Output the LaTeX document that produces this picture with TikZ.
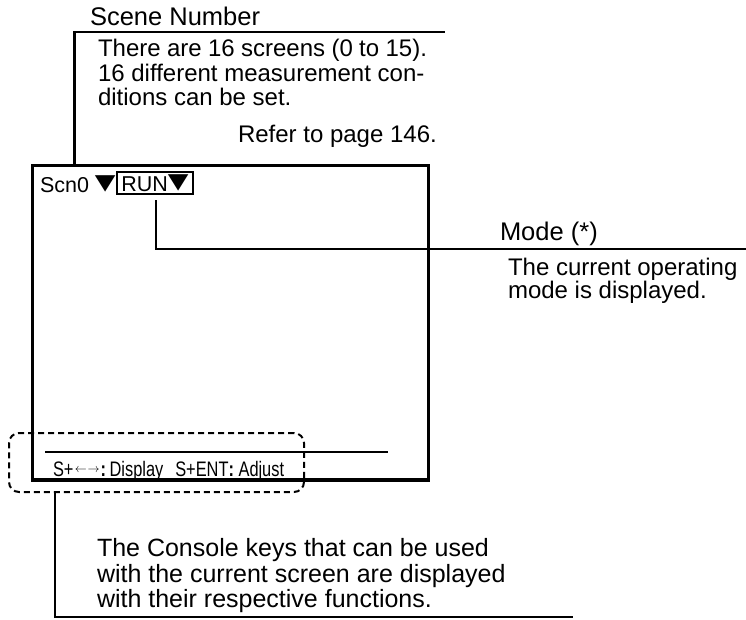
\documentclass[tikz,border=0pt]{standalone}
\usepackage{graphicx}
\usepackage{fontspec}
\setmainfont{Liberation Sans}
\newfontfamily\symfont{DejaVu Sans}
\newfontfamily\narrowfont[FakeStretch=0.78]{Liberation Sans}
\usetikzlibrary{calc}

% downward-pointing marker used on the monitor screen
\newcommand{\downmark}{{\symfont\raisebox{3pt}{\scalebox{1.25}[1]{▼}}}}
% left/right cursor key pair
\newcommand{\lrkeys}{\hspace{1.5pt}{\fontsize{13}{13}\selectfont\raisebox{4pt}{$\leftarrow\mkern1mu\rightarrow$}}\hspace{1pt}}

\begin{document}
\begin{tikzpicture}[x=1pt,y=-1pt,
  every node/.style={inner sep=0pt,outer sep=0pt},
  txt/.style={anchor=base west,font=\fontsize{24}{24}\selectfont},
  bigtxt/.style={anchor=base west,font=\fontsize{25}{25}\selectfont},
  head/.style={anchor=base west,font=\fontsize{25.5}{25.5}\selectfont},
  scrtxt/.style={anchor=base west,font=\fontsize{21.5}{21.5}\selectfont},
  leader/.style={line width=2.4pt},
  monitor/.style={draw,line width=3.5pt,anchor=north west},
  keyzone/.style={draw,line width=2pt,dash pattern=on 6pt off 4pt,
                  rounded corners=10pt,anchor=north west}]
\useasboundingbox (0,0) rectangle (746,619);

% monitor screen
\node[monitor,minimum width=396pt,minimum height=314.5pt] (screen) at (32.5,165.5) {};
\node[scrtxt] (scn) at (40,192) {Scn0 \downmark};
\node[draw,line width=2.2pt,minimum width=76pt,minimum height=22pt,anchor=north west,
      font=\fontsize{21.5}{21.5}\selectfont] (run) at (117,172) {RUN\downmark};

% guidance line at the foot of the screen
\coordinate (kl) at (45,452);
\coordinate (kr) at (388,452);
\draw[line width=2pt] (kl) -- (kr);
\node[anchor=base west,font=\narrowfont\fontsize{21}{21}\selectfont] (keys) at (53,476)
  {S+\lrkeys\textbf{:}\,Display\hspace{12pt}S+ENT\textbf{:} Adjust};
\node[keyzone,minimum width=295pt,minimum height=59pt] (zone) at (9,433) {};

% scene number callout
\coordinate (sc) at (74.5,32);
\coordinate (se) at (445,32);
\draw[leader] (sc |- screen.north) -- (sc) -- (se);
\node[head] (scenehead) at (90,25) {Scene Number};
\node[txt] (s1) at (98,56.5) {\makebox[329pt][s]{There are 16 screens (0 to 15).}};
\node[txt] (s2) at (98,81) {16 different measurement con-};
\node[txt] (s3) at (98,105.5) {ditions can be set.};
\node[txt] (s4) at (238,142) {Refer to page 146.};

% mode callout
\coordinate (ms) at ($(run.south)+(1,6)$);
\coordinate (mc) at (156,249);
\coordinate (me) at (746,249);
\draw[leader] (ms) -- (mc) -- (me);
\node[head] (modehead) at (500,240) {Mode (*)};
\node[txt] (m1) at (508,275) {The current operating};
\node[txt] (m2) at (508,298) {mode is displayed.};

% console keys callout
\coordinate (cc) at (55,617);
\coordinate (ce) at (573,617);
\draw[leader] (cc |- zone.south) -- (cc) -- (ce);
\node[bigtxt] (k1) at (97,556) {The Console keys that can be used};
\node[bigtxt] (k2) at (97,582) {with the current screen are displayed};
\node[bigtxt] (k3) at (97,607) {with their respective functions.};
\end{tikzpicture}
\end{document}
